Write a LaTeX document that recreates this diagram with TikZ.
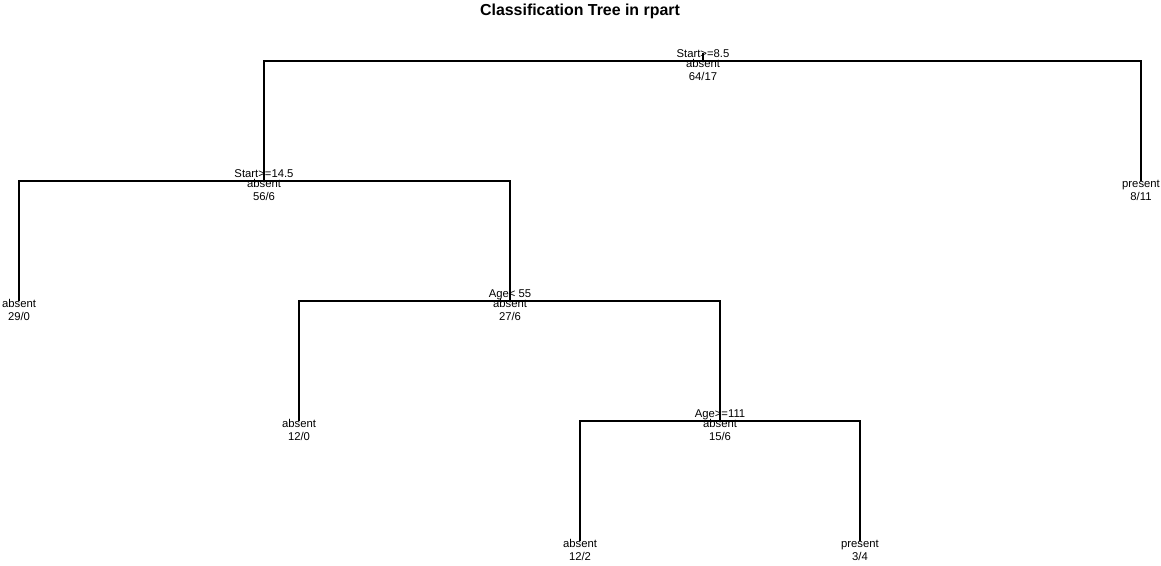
\documentclass[tikz,border=0pt]{standalone}
\usepackage{fontspec}
\setmainfont{Liberation Sans}
\usetikzlibrary{calc}
\begin{document}
\begin{tikzpicture}[x=1pt,y=-1pt,
  lbl/.style={font=\fontsize{11.3}{13}\selectfont, anchor=base, inner sep=0pt},
  branch/.style={line width=2pt, line join=miter, black}]
\useasboundingbox (0,0) rectangle (1161,565);
\node[font=\bfseries\fontsize{15.9}{18}\selectfont, anchor=base, inner sep=0pt] (title) at (580,15) {Classification Tree in rpart};
% node positions
\coordinate (top) at (703,53);
\coordinate (n1) at (703,61);
\coordinate (n2) at (264,181);
\coordinate (n3) at (1141,181);
\coordinate (n4) at (19,301);
\coordinate (n5) at (510,301);
\coordinate (n10) at (299,421);
\coordinate (n11) at (720,421);
\coordinate (n22) at (580,541);
\coordinate (n23) at (860,541);
% labels
\node[lbl] (s1) at ($(n1)+(0,-4)$) {Start>=8.5};
\node[lbl] (c1) at ($(n1)+(0,6)$) {absent};
\node[lbl] (k1) at ($(n1)+(0,19)$) {64/17};
\node[lbl] (s2) at ($(n2)+(0,-4)$) {Start>=14.5};
\node[lbl] (c2) at ($(n2)+(0,6)$) {absent};
\node[lbl] (k2) at ($(n2)+(0,19)$) {56/6};
\node[lbl] (c3) at ($(n3)+(0,6)$) {present};
\node[lbl] (k3) at ($(n3)+(0,19)$) {8/11};
\node[lbl] (c4) at ($(n4)+(0,6)$) {absent};
\node[lbl] (k4) at ($(n4)+(0,19)$) {29/0};
\node[lbl] (s5) at ($(n5)+(0,-4)$) {Age< 55};
\node[lbl] (c5) at ($(n5)+(0,6)$) {absent};
\node[lbl] (k5) at ($(n5)+(0,19)$) {27/6};
\node[lbl] (c10) at ($(n10)+(0,6)$) {absent};
\node[lbl] (k10) at ($(n10)+(0,19)$) {12/0};
\node[lbl] (s11) at ($(n11)+(0,-4)$) {Age>=111};
\node[lbl] (c11) at ($(n11)+(0,6)$) {absent};
\node[lbl] (k11) at ($(n11)+(0,19)$) {15/6};
\node[lbl] (c22) at ($(n22)+(0,6)$) {absent};
\node[lbl] (k22) at ($(n22)+(0,19)$) {12/2};
\node[lbl] (c23) at ($(n23)+(0,6)$) {present};
\node[lbl] (k23) at ($(n23)+(0,19)$) {3/4};
% branches
\draw[branch] (top) -- (n1);
\draw[branch] (n1) -| (n2);
\draw[branch] (n1) -| (n3);
\draw[branch] (n2) -| (n4);
\draw[branch] (n2) -| (n5);
\draw[branch] (n5) -| (n10);
\draw[branch] (n5) -| (n11);
\draw[branch] (n11) -| (n22);
\draw[branch] (n11) -| (n23);
\end{tikzpicture}
\end{document}
